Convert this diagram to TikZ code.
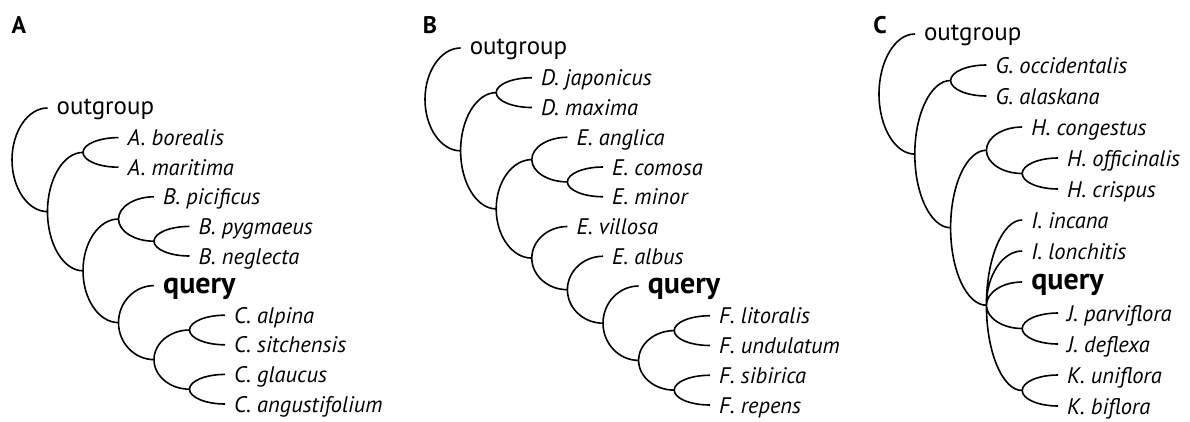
\documentclass[tikz,border=0pt]{standalone}
\usepackage{fontspec}
\setmainfont{PT Sans}
\usetikzlibrary{calc}
\begin{document}
\begin{tikzpicture}[x=1pt,y=-1pt]
\tikzset{
 br/.style={to path={.. controls ($(\tikztostart)!0.55!(\tikztostart|-\tikztotarget)$) and ($(\tikztostart|-\tikztotarget)!0.45!(\tikztotarget)$) .. (\tikztotarget)}},
 tree/.style={draw=black, line width=1.6pt},
 leaf/.style={anchor=west, inner xsep=9pt, inner ysep=0pt, text height=16pt, text depth=0pt, font=\fontsize{22.5}{26}\selectfont\itshape},
 qry/.style={leaf, text height=15pt, font=\fontsize{30}{34}\selectfont\bfseries},
 og/.style={leaf, text height=13pt, font=\fontsize{25}{29}\selectfont},
 panel/.style={font=\fontsize{24}{28}\selectfont\bfseries, inner sep=0pt}
}
\useasboundingbox (0,0) rectangle (1190,421);
% ---------------- Panel A ----------------
\node[panel] (pA) at (19,25) {A};
\coordinate (a0) at (12,159.8);
\coordinate (a1) at (47.5,211.6);
\coordinate (aA) at (83,152.4);
\coordinate (a2) at (83,270.8);
\coordinate (aB) at (118.5,219);
\coordinate (aBP) at (154,241.2);
\coordinate (a3) at (118.5,322.6);
\coordinate (aC) at (154,359.6);
\coordinate (aC1) at (189.5,330);
\coordinate (aC2) at (189.5,389.2);
\node[og] (aout) at (47.5,108) {outgroup};
\node[leaf] (abor) at (118.5,137.6) {A. borealis};
\node[leaf] (amar) at (118.5,167.2) {A. maritima};
\node[leaf] (apic) at (154,196.8) {B. picificus};
\node[leaf] (apyg) at (189.5,226.4) {B. pygmaeus};
\node[leaf] (aneg) at (189.5,256) {B. neglecta};
\node[qry] (aq) at (154,285.6) {query};
\node[leaf] (aalp) at (225,315.2) {C. alpina};
\node[leaf] (asit) at (225,344.8) {C. sitchensis};
\node[leaf] (agla) at (225,374.4) {C. glaucus};
\node[leaf] (aang) at (225,404) {C. angustifolium};
\draw[tree] (a0) to[br] (aout.west) (a0) to[br] (a1)
 (a1) to[br] (aA) (a1) to[br] (a2)
 (aA) to[br] (abor.west) (aA) to[br] (amar.west)
 (a2) to[br] (aB) (a2) to[br] (a3)
 (aB) to[br] (apic.west) (aB) to[br] (aBP)
 (aBP) to[br] (apyg.west) (aBP) to[br] (aneg.west)
 (a3) to[br] (aq.west) (a3) to[br] (aC)
 (aC) to[br] (aC1) (aC) to[br] (aC2)
 (aC1) to[br] (aalp.west) (aC1) to[br] (asit.west)
 (aC2) to[br] (agla.west) (aC2) to[br] (aang.west);
% ---------------- Panel B ----------------
\node[panel] (pB) at (430,25) {B};
\coordinate (b0) at (425,99.4);
\coordinate (b1) at (460.6,150.8);
\coordinate (bD) at (496.2,92.6);
\coordinate (b2) at (496.2,208.9);
\coordinate (bE) at (531.8,159.6);
\coordinate (bECM) at (567.4,181.9);
\coordinate (b3) at (531.8,258.1);
\coordinate (b4) at (567.4,289.7);
\coordinate (b5) at (603,323.2);
\coordinate (bF) at (638.6,360.4);
\coordinate (bF1) at (674.2,330.6);
\coordinate (bF2) at (674.2,390.1);
\node[og] (bout) at (460.6,48) {outgroup};
\node[leaf] (bjap) at (531.8,77.75) {D. japonicus};
\node[leaf] (bmax) at (531.8,107.5) {D. maxima};
\node[leaf] (bang) at (567.4,137.25) {E. anglica};
\node[leaf] (bcom) at (603,167) {E. comosa};
\node[leaf] (bmin) at (603,196.75) {E. minor};
\node[leaf] (bvil) at (567.4,226.5) {E. villosa};
\node[leaf] (balb) at (603,256.25) {E. albus};
\node[qry] (bq) at (638.6,286) {query};
\node[leaf] (blit) at (709.8,315.75) {F. litoralis};
\node[leaf] (bund) at (709.8,345.5) {F. undulatum};
\node[leaf] (bsib) at (709.8,375.25) {F. sibirica};
\node[leaf] (brep) at (709.8,405) {F. repens};
\draw[tree] (b0) to[br] (bout.west) (b0) to[br] (b1)
 (b1) to[br] (bD) (b1) to[br] (b2)
 (bD) to[br] (bjap.west) (bD) to[br] (bmax.west)
 (b2) to[br] (bE) (b2) to[br] (b3)
 (bE) to[br] (bang.west) (bE) to[br] (bECM)
 (bECM) to[br] (bcom.west) (bECM) to[br] (bmin.west)
 (b3) to[br] (bvil.west) (b3) to[br] (b4)
 (b4) to[br] (balb.west) (b4) to[br] (b5)
 (b5) to[br] (bq.west) (b5) to[br] (bF)
 (bF) to[br] (bF1) (bF) to[br] (bF2)
 (bF1) to[br] (blit.west) (bF1) to[br] (bund.west)
 (bF2) to[br] (bsib.west) (bF2) to[br] (brep.west);
% ---------------- Panel C ----------------
\node[panel] (pC) at (880,25) {C};
\coordinate (c0) at (879,94.05);
\coordinate (c1) at (914.8,154.1);
\coordinate (cG) at (950.6,80.5);
\coordinate (c2) at (950.6,227.75);
\coordinate (cH) at (986.4,150.25);
\coordinate (cHOC) at (1022.2,173.5);
\coordinate (cI) at (986.4,305.25);
\coordinate (cJ) at (1022.2,328.5);
\coordinate (cK) at (1022.2,390.5);
\node[og] (cout) at (914.8,34) {outgroup};
\node[leaf] (cocc) at (986.4,65) {G. occidentalis};
\node[leaf] (cala) at (986.4,96) {G. alaskana};
\node[leaf] (ccon) at (1022.2,127) {H. congestus};
\node[leaf] (coff) at (1058,158) {H. officinalis};
\node[leaf] (ccri) at (1058,189) {H. crispus};
\node[leaf] (cinc) at (1022.2,220) {I. incana};
\node[leaf] (clon) at (1022.2,251) {I. lonchitis};
\node[qry] (cq) at (1022.2,282) {query};
\node[leaf] (cpar) at (1058,313) {J. parviflora};
\node[leaf] (cdef) at (1058,344) {J. deflexa};
\node[leaf] (cuni) at (1058,375) {K. uniflora};
\node[leaf] (cbif) at (1058,406) {K. biflora};
\draw[tree] (c0) to[br] (cout.west) (c0) to[br] (c1)
 (c1) to[br] (cG) (c1) to[br] (c2)
 (cG) to[br] (cocc.west) (cG) to[br] (cala.west)
 (c2) to[br] (cH) (c2) to[br] (cI)
 (cH) to[br] (ccon.west) (cH) to[br] (cHOC)
 (cHOC) to[br] (coff.west) (cHOC) to[br] (ccri.west)
 (cI) to[br] (cinc.west) (cI) to[br] (clon.west) (cI) to[br] (cq.west)
 (cI) to[br] (cJ) (cI) to[br] (cK)
 (cJ) to[br] (cpar.west) (cJ) to[br] (cdef.west)
 (cK) to[br] (cuni.west) (cK) to[br] (cbif.west);
\end{tikzpicture}
\end{document}
